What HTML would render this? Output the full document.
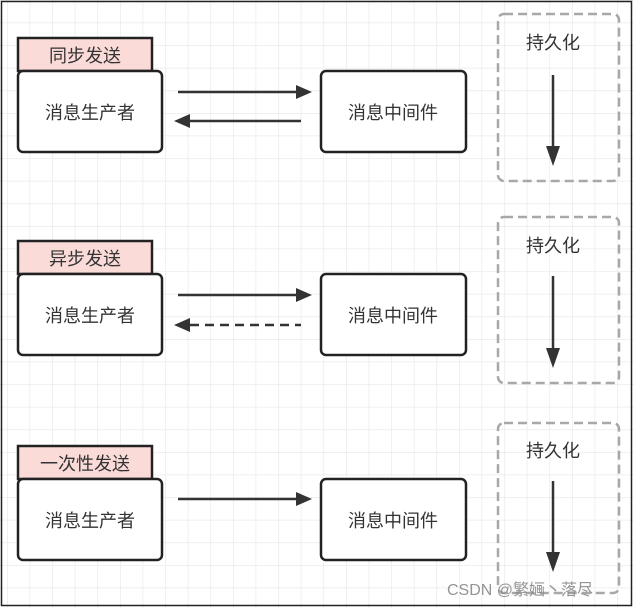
<!DOCTYPE html>
<html><head><meta charset="utf-8"><style>
body{margin:0;}
svg text{font-family:"Liberation Sans","Noto Sans CJK SC",sans-serif;}
</style></head><body>
<svg width="634" height="608" viewBox="0 0 634 608" xmlns="http://www.w3.org/2000/svg">
<defs>
<pattern id="g" x="7" y="0" width="22.6" height="22.6" patternUnits="userSpaceOnUse">
<path d="M0 0H22.6M0 0V22.6" stroke="#e6e6e6" stroke-width="1.2" fill="none"/>
</pattern>
<marker id="a" viewBox="0 0 10 10" refX="9" refY="5" markerWidth="7" markerHeight="6" orient="auto-start-reverse" markerUnits="userSpaceOnUse">
<path d="M0 0L10 5L0 10z" fill="#333"/>
</marker>
<marker id="b" viewBox="0 0 10 10" refX="9" refY="5" markerWidth="4.5" markerHeight="4" orient="auto" >
<path d="M0 0L10 5L0 10z" fill="#333"/>
</marker>
</defs>
<rect width="634" height="608" fill="#fff"/>
<rect width="634" height="608" fill="url(#g)"/>
<rect x="1.5" y="1.5" width="630" height="604" fill="none" stroke="#222" stroke-width="1.5"/>

<g id="r1">
<rect x="18" y="38" width="134" height="33" fill="#fadbd8" stroke="#222" stroke-width="2.5"/>
<text x="85" y="62" font-size="18" text-anchor="middle" fill="#333">同步发送</text>
<rect x="18" y="71" width="144" height="81" rx="5" fill="#fff" stroke="#222" stroke-width="2.5"/>
<text x="90" y="119" font-size="18" text-anchor="middle" fill="#333">消息生产者</text>
<rect x="321" y="71" width="145" height="81" rx="5" fill="#fff" stroke="#222" stroke-width="2.5"/>
<text x="393" y="119" font-size="18" text-anchor="middle" fill="#333">消息中间件</text>
<line x1="178" y1="92" x2="300" y2="92" stroke="#333" stroke-width="2.5"/>
<path d="M296 85L312 92L296 99z" fill="#333"/>
<line x1="190" y1="121" x2="301" y2="121" stroke="#333" stroke-width="2.5"/>
<path d="M190 114L174 121L190 128z" fill="#333"/>
<rect x="498" y="14" width="121" height="167" rx="6" fill="none" stroke="#a8a8a8" stroke-width="2.5" stroke-dasharray="9,5"/>
<text x="553" y="49" font-size="18" text-anchor="middle" fill="#333">持久化</text>
<line x1="553" y1="75" x2="553" y2="150" stroke="#333" stroke-width="2.5"/>
<path d="M546 146L553 166L560 146z" fill="#333"/>
</g>

<g>
<rect x="18" y="241" width="134" height="33" fill="#fadbd8" stroke="#222" stroke-width="2.5"/>
<text x="85" y="265" font-size="18" text-anchor="middle" fill="#333">异步发送</text>
<rect x="18" y="274" width="144" height="81" rx="5" fill="#fff" stroke="#222" stroke-width="2.5"/>
<text x="90" y="322" font-size="18" text-anchor="middle" fill="#333">消息生产者</text>
<rect x="321" y="274" width="145" height="81" rx="5" fill="#fff" stroke="#222" stroke-width="2.5"/>
<text x="393" y="322" font-size="18" text-anchor="middle" fill="#333">消息中间件</text>
<line x1="178" y1="295" x2="300" y2="295" stroke="#333" stroke-width="2.5"/>
<path d="M296 288L312 295L296 302z" fill="#333"/>
<line x1="190" y1="325" x2="301" y2="325" stroke="#333" stroke-width="2.5" stroke-dasharray="9,6"/>
<path d="M190 318L174 325L190 332z" fill="#333"/>
<rect x="498" y="217" width="121" height="166" rx="6" fill="none" stroke="#a8a8a8" stroke-width="2.5" stroke-dasharray="9,5"/>
<text x="553" y="252" font-size="18" text-anchor="middle" fill="#333">持久化</text>
<line x1="553" y1="276" x2="553" y2="352" stroke="#333" stroke-width="2.5"/>
<path d="M546 348L553 368L560 348z" fill="#333"/>
</g>

<g>
<rect x="18" y="446" width="134" height="33" fill="#fadbd8" stroke="#222" stroke-width="2.5"/>
<text x="85" y="470" font-size="18" text-anchor="middle" fill="#333">一次性发送</text>
<rect x="18" y="479" width="144" height="81" rx="5" fill="#fff" stroke="#222" stroke-width="2.5"/>
<text x="90" y="527" font-size="18" text-anchor="middle" fill="#333">消息生产者</text>
<rect x="321" y="479" width="145" height="81" rx="5" fill="#fff" stroke="#222" stroke-width="2.5"/>
<text x="393" y="527" font-size="18" text-anchor="middle" fill="#333">消息中间件</text>
<line x1="178" y1="499" x2="300" y2="499" stroke="#333" stroke-width="2.5"/>
<path d="M296 492L312 499L296 506z" fill="#333"/>
<rect x="498" y="423" width="121" height="170" rx="6" fill="none" stroke="#a8a8a8" stroke-width="2.5" stroke-dasharray="9,5"/>
<text x="553" y="457" font-size="18" text-anchor="middle" fill="#333">持久化</text>
<line x1="553" y1="481" x2="553" y2="556" stroke="#333" stroke-width="2.5"/>
<path d="M546 552L553 572L560 552z" fill="#333"/>
</g>

<text x="447" y="595" font-size="16" fill="#8a8a8a" fill-opacity="0.9">CSDN @繁婳丶落尽</text>
</svg>
</body></html>
